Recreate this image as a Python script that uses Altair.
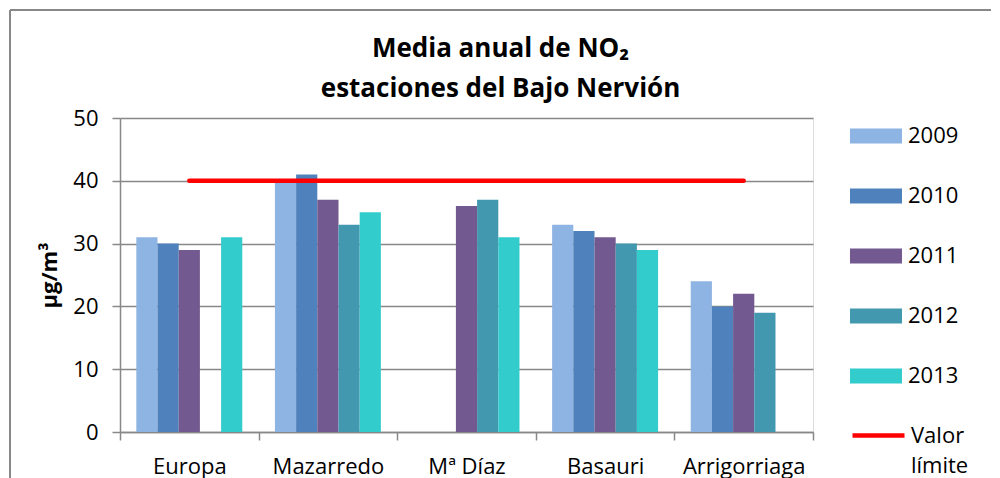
import altair as alt
import pandas as pd

# ---- data ----
stations = ["Europa", "Mazarredo", "Mª Díaz", "Basauri", "Arrigorriaga"]
years = ["2009", "2010", "2011", "2012", "2013"]
europa = [31, 30, 29, None, 31]
mazarredo = [40, 41, 37, 33, 35]
maria_diaz = [None, None, 36, 37, 31]
basauri = [33, 32, 31, 30, 29]
arrigorriaga = [24, 20, 22, 19, None]
limit_value = 40
limit_label = "Valor límite"
year_colors = ["#8EB4E3", "#4F81BD", "#72598F", "#4198AF", "#33CCCC"]
y_ticks = [0, 10, 20, 30, 40, 50]

series = [europa, mazarredo, maria_diaz, basauri, arrigorriaga]
rows = []
for st, vals in zip(stations, series):
    for yr, v in zip(years, vals):
        if v is not None:
            rows.append({"station": st, "year": yr, "value": v})
df = pd.DataFrame(rows)
limit_df = pd.DataFrame({"station": stations, "value": [limit_value] * len(stations),
                         "label": [limit_label] * len(stations)})

FONT = "Open Sans"
GRAY = "#888888"
FS = 22

x_scale = alt.Scale(domain=stations, paddingInner=0, paddingOuter=0)
y_scale = alt.Scale(domain=[0, 50])
x_axis = alt.Axis(title=None, labelAngle=0, tickBand="extent", tickSize=8, tickColor=GRAY,
                  tickWidth=1.5, domainColor=GRAY, domainWidth=1.5, labelFont=FONT,
                  labelFontSize=FS, labelColor="black", labelPadding=16, grid=False)
y_axis = alt.Axis(title="µg/m³", values=y_ticks, tickSize=8, tickColor=GRAY, tickWidth=1.5,
                  domainColor=GRAY, domainWidth=1.5, gridColor=GRAY, gridWidth=1.5,
                  labelFont=FONT, labelFontSize=FS, labelColor="black", labelPadding=14,
                  titleFont=FONT, titleFontSize=FS, titleFontWeight="bold", titleColor="black",
                  titlePadding=11)

bars = alt.Chart(df).mark_bar().encode(
    x=alt.X("station:N", scale=x_scale, sort=stations, axis=x_axis),
    xOffset=alt.XOffset("year:N", scale=alt.Scale(domain=years, paddingInner=0, paddingOuter=0.77)),
    y=alt.Y("value:Q", scale=y_scale, axis=y_axis),
    fill=alt.Fill("year:N", scale=alt.Scale(domain=years, range=year_colors),
                  legend=alt.Legend(title=None, orient="none", legendX=730, legendY=-8,
                                    symbolType="M-1,-0.29H1V0.29H-1Z", symbolSize=2704,
                                    symbolStrokeWidth=0, labelFont=FONT, labelFontSize=FS,
                                    labelColor="black", labelOffset=6, rowPadding=23, padding=0)),
)

line = alt.Chart(limit_df).mark_line(strokeWidth=4.5, strokeCap="round").encode(
    x=alt.X("station:N", scale=x_scale, sort=stations, axis=x_axis),
    y=alt.Y("value:Q", scale=y_scale, axis=y_axis),
    stroke=alt.Stroke("label:N", scale=alt.Scale(domain=[limit_label], range=["#FF0000"]),
                      legend=alt.Legend(title=None, orient="none", legendX=730, legendY=289,
                                        symbolType="stroke", symbolSize=2704, symbolStrokeWidth=4.5,
                                        labelFont=FONT, labelFontSize=FS, labelColor="black",
                                        labelOffset=4, padding=0,
                                        labelExpr="datum.label == 'Valor límite' ? ['Valor', 'límite'] : datum.label")),
)

frame_v = alt.Chart(limit_df).mark_rule(color=GRAY, strokeWidth=2).encode(
    x=alt.value(-110), y=alt.value(-108), y2=alt.value(400))
frame_h = alt.Chart(limit_df).mark_rule(color=GRAY, strokeWidth=2).encode(
    x=alt.value(-110), x2=alt.value(900), y=alt.value(-108))

chart = alt.layer(frame_v, frame_h, bars, line).properties(
    width=693, height=314,
    title=alt.TitleParams(["Media anual de NO₂", "estaciones del Bajo Nervión"], font=FONT,
                          fontSize=26, fontWeight="bold", color="black", anchor="middle",
                          dx=34, dy=93, offset=0, lineHeight=40),
    autosize=alt.AutoSizeParams(type="none"),
    padding={"left": 112, "top": 110, "right": 178, "bottom": 46},
).configure_view(stroke=None).configure(
    background="white",
    style={"guide-label": {"lineHeight": 30}},
)

chart.save("out.html", embed_options={"renderer": "svg", "actions": False})
